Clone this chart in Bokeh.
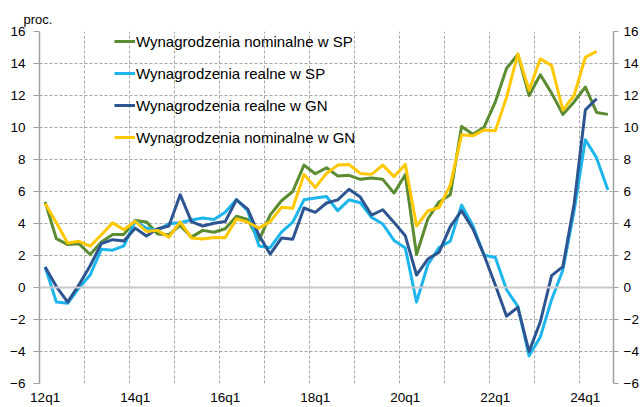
from bokeh.plotting import figure
from bokeh.models import (FixedTicker, Span, Legend, LegendItem, LinearAxis,
                          Range1d, ColumnDataSource, Title)
from bokeh.embed import file_html
from bokeh.resources import INLINE

# ---- data -------------------------------------------------------------
quarters = [f"{y:02d}q{q}" for y in range(12, 25) for q in range(1, 5)][:51]

nominal_sp = [5.35, 3.05, 2.68, 2.74, 2.06, 2.85, 3.32, 3.32, 4.19, 4.10,
              3.35, 3.30, 3.88, 3.15, 3.57, 3.45, 3.67, 4.45, 4.25, 2.95,
              4.54, 5.42, 6.00, 7.65, 7.11, 7.48, 6.97, 7.01, 6.76, 6.84,
              6.76, 5.90, 7.05, 2.06, 4.28, 5.35, 5.80, 10.06, 9.58, 10.02,
              11.60, 13.70, 14.56, 12.00, 13.30, 12.15, 10.82, 11.60, 12.53, 10.94,
              10.82]
real_sp = [1.28, -0.91, -0.99, -0.04, 0.78, 2.39, 2.33, 2.60, 4.14, 3.71,
           3.57, 3.98, 4.05, 4.22, 4.35, 4.25, 4.70, 5.50, 4.80, 2.60,
           2.49, 3.46, 4.08, 5.48, 5.59, 5.69, 4.80, 5.48, 5.30, 4.38,
           3.97, 2.94, 2.47, -0.91, 1.42, 2.50, 2.90, 5.15, 3.88, 2.02,
           1.88, -0.14, -1.18, -4.27, -3.09, -0.76, 1.09, 4.80, 9.23, 8.10,
           6.10]
real_gn = [1.28, 0.06, -0.91, 0.16, 1.36, 2.74, 2.99, 2.91, 3.71, 3.22,
           3.67, 3.84, 5.80, 4.12, 3.84, 4.02, 4.12, 5.48, 4.90, 3.26,
           2.08, 3.09, 3.01, 4.97, 4.70, 5.28, 5.48, 6.14, 5.65, 4.53,
           4.86, 4.07, 3.23, 0.78, 1.78, 2.20, 3.80, 4.80, 3.67, 2.02,
           0.16, -1.79, -1.24, -4.00, -2.14, 0.74, 1.30, 5.22, 11.10, 11.80]
nominal_gn = [5.25, 4.05, 2.78, 2.89, 2.58, 3.30, 4.04, 3.61, 4.14, 3.50,
              3.57, 3.15, 4.10, 3.10, 3.03, 3.13, 3.11, 4.29, 4.08, 3.71,
              4.12, 5.01, 4.95, 7.07, 6.25, 7.13, 7.65, 7.69, 7.13, 7.07,
              7.65, 6.93, 7.69, 3.84, 4.78, 5.00, 6.40, 9.54, 9.48, 9.85,
              9.79, 11.90, 14.60, 12.33, 14.29, 13.87, 11.09, 12.00, 14.39, 14.76]

series_names = ["Wynagrodzenia nominalne w SP", "Wynagrodzenia realne w SP",
                "Wynagrodzenia realne w GN", "Wynagrodzenia nominalne w GN"]
series_values = [nominal_sp, real_sp, real_gn, nominal_gn]
series_colors = ["#5B8C32", "#1CB5EC", "#2D5591", "#FFC800"]

x_tick_labels = ["12q1", "14q1", "16q1", "18q1", "20q1", "22q1", "24q1"]
y_ticks = list(range(-6, 17, 2))

# ---- figure -----------------------------------------------------------
FONT = "Liberation Sans"
p = figure(width=641, height=407, output_backend="svg", toolbar_location=None,
           x_range=Range1d(0, len(quarters)), y_range=Range1d(-6, 16),
           min_border_left=39, min_border_right=28, min_border_top=31,
           min_border_bottom=22)
p.outline_line_color = None
p.background_fill_color = "white"
p.border_fill_color = "white"

def x_of(i):
    return i + 0.5

# x axis: category labels every 8 quarters
tick_pos = [x_of(quarters.index(t)) for t in x_tick_labels]
xax = p.xaxis[0]
xax.ticker = FixedTicker(ticks=tick_pos)
xax.major_label_overrides = {pos: lab for pos, lab in zip(tick_pos, x_tick_labels)}
xax.axis_line_color = None
xax.major_tick_line_color = None
xax.minor_tick_line_color = None
xax.major_tick_out = 0
xax.major_tick_in = 0
xax.major_label_standoff = 6
xax.major_label_text_font = FONT
xax.major_label_text_font_size = "13.5px"
xax.major_label_text_color = "#000000"

# grids
p.ygrid.ticker = FixedTicker(ticks=y_ticks)
p.ygrid.grid_line_color = "#a6a6a6"
p.ygrid.grid_line_dash = "3 2"
p.ygrid.grid_line_width = 1
p.xgrid.ticker = FixedTicker(ticks=list(range(4, len(quarters), 4)))
p.xgrid.grid_line_color = "#a6a6a6"
p.xgrid.grid_line_dash = "3 2"
p.xgrid.grid_line_width = 1
p.add_layout(Span(location=0, dimension="width", line_color="#c8c8c8", line_width=2))

# y axes
def style_axis(ax, tick_out, standoff):
    ax.ticker = FixedTicker(ticks=y_ticks)
    ax.axis_line_color = "#a0a0a0"
    ax.axis_line_width = 1.5
    ax.major_tick_line_color = "#a0a0a0"
    ax.major_tick_out = tick_out
    ax.major_tick_in = 0
    ax.minor_tick_line_color = None
    ax.major_label_text_font = FONT
    ax.major_label_text_font_size = "13.5px"
    ax.major_label_text_color = "#000000"
    ax.major_label_standoff = standoff

style_axis(p.yaxis[0], 6, 8)
raxis = LinearAxis()
p.add_layout(raxis, "right")
style_axis(raxis, 5, 5)

# lines
renderers = []
for vals, col in zip(series_values, series_colors):
    src = ColumnDataSource(dict(x=[x_of(i) for i in range(len(vals))], y=vals))
    r = p.line("x", "y", source=src, line_color=col, line_width=3,
               line_join="round")
    renderers.append(r)

legend = Legend(items=[LegendItem(label=n, renderers=[r])
                       for n, r in zip(series_names, renderers)],
                location=(75, 236), padding=0, margin=0, spacing=12,
                glyph_width=21, glyph_height=20, label_height=20,
                label_standoff=1, label_text_font=FONT,
                label_text_font_size="15px", label_text_color="#000000",
                border_line_color=None, background_fill_alpha=0)
p.add_layout(legend)

# unit label
p.add_layout(Title(text="proc.", align="left", offset=-16, standoff=9,
                   text_font=FONT, text_font_size="13px",
                   text_font_style="normal", text_color="#000000"), "above")

open("out.html", "w").write(file_html(p, INLINE))
